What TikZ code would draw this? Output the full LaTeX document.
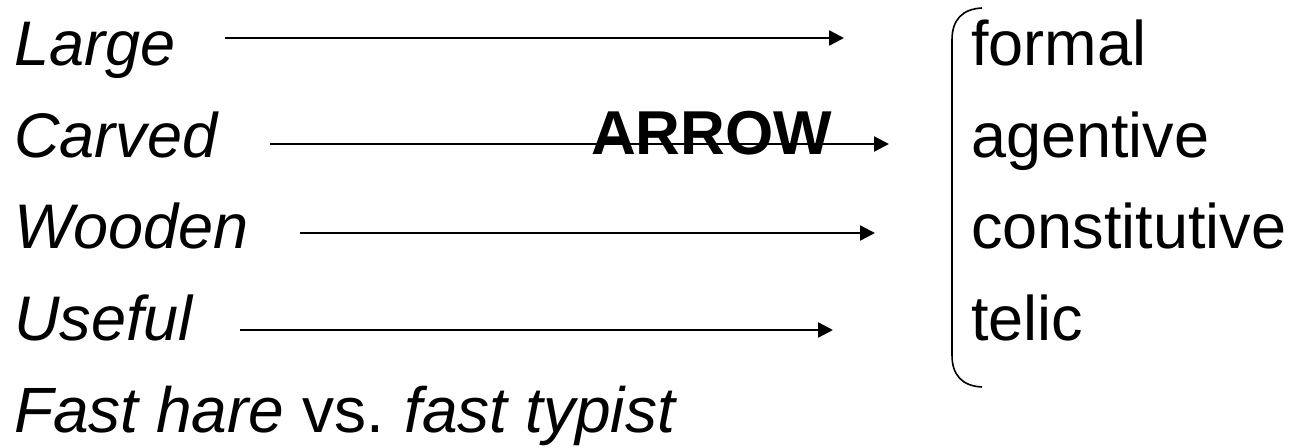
\documentclass[tikz,border=0pt]{standalone}
\usepackage{fontspec}
\setmainfont{Liberation Sans}
\usetikzlibrary{arrows.meta}
\begin{document}
\begin{tikzpicture}[x=1pt,y=-1pt,
  word/.style={anchor=base west,inner sep=0pt,font=\fontsize{63}{72}\selectfont\itshape},
  role/.style={anchor=base west,inner sep=0pt,font=\fontsize{63}{72}\selectfont},
  conn/.style={line width=2.4pt,-{Triangle[length=15pt,width=15pt]}},
  brk/.style={line width=1.6pt}]
\path[use as bounding box] (0,0) rectangle (1295,447);
% left words
\node[word] (large) at (14,65) {Large};
\node[word] (carved) at (14,157) {Carved};
\node[word] (wooden) at (14,248) {Wooden};
\node[word] (useful) at (14,340) {Useful};
\node[word,font=\fontsize{64}{72}\selectfont\itshape] (fast) at (14,432) {Fast hare {\upshape vs.}\hspace{0.32em}fast typist};
% ARROW label
\node[anchor=base west,inner sep=0pt,font=\fontsize{62}{72}\selectfont\bfseries] (lbl) at (591,154) {ARROW};
% right roles
\node[role] (formal) at (971,65) {formal};
\node[role] (agentive) at (971,157) {agentive};
\node[role] (constitutive) at (971,248) {constitutive};
\node[role] (telic) at (971,340) {telic};
% arrow coordinates
\coordinate (a1) at (225,38);  \coordinate (b1) at (844,38);
\coordinate (a2) at (270,144); \coordinate (b2) at (889,144);
\coordinate (a3) at (300,233); \coordinate (b3) at (875,233);
\coordinate (a4) at (240,330); \coordinate (b4) at (833,330);
\draw[conn] (a1) -- (b1);
\draw[conn] (a2) -- (b2);
\draw[conn] (a3) -- (b3);
\draw[conn] (a4) -- (b4);
% bracket
\coordinate (bt) at (982,8);
\coordinate (bb) at (982,387);
\draw[brk] (bt) .. controls (962,9) and (952,20) .. (952,40) -- (952,355) .. controls (952,375) and (962,386) .. (bb);
\end{tikzpicture}
\end{document}
